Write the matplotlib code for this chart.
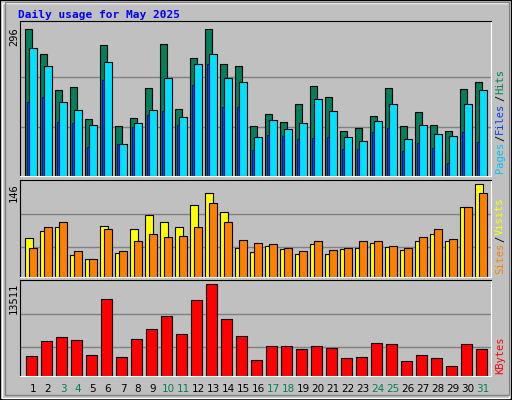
import matplotlib
matplotlib.use("Agg")
import matplotlib.pyplot as plt
from matplotlib.patches import Rectangle
import numpy as np

days = list(range(1, 32))
weekend = [3, 4, 10, 11, 17, 18, 24, 25, 31]
hits = [296,247,173,179,116,264,100,118,177,266,136,239,296,225,221,100,126,108,145,181,159,90,96,122,177,100,130,102,90,175,189]
files = [258,221,150,134,102,231,64,106,134,197,120,225,247,197,189,78,112,94,106,155,132,78,70,110,146,74,102,84,80,145,173]
pages = [150,159,108,106,58,193,64,98,124,132,102,183,225,140,140,52,82,80,74,76,78,54,54,88,96,50,66,56,26,88,68]
visits = [62,73,79,35,29,81,38,76,98,87,79,114,133,103,46,40,49,44,37,52,37,44,46,54,48,43,56,68,57,110,146]
sites = [46,79,86,41,29,76,41,57,68,63,65,78,117,87,59,54,52,46,41,56,43,46,57,56,49,46,63,76,60,111,133]
kbytes = [2970,5198,5792,5346,3119,11286,2822,5495,6980,8910,6237,11138,13511,8465,5940,2376,4455,4455,4010,4455,4158,2673,2822,4901,4752,2228,3119,2673,1485,4752,4010]

BG = "#C0C0C0"
W, H = 512, 400
fig = plt.figure(figsize=(W/100, H/100), dpi=100, facecolor=BG)
fig.patches.append(Rectangle((0, 0), 1, 1, transform=fig.transFigure, fill=False, ec="black", lw=1.5))
fig.patches.append(Rectangle((2/W, 2/H), 1-5/W, 1-5/H, transform=fig.transFigure, fill=False, ec="white", lw=1))
fig.patches.append(Rectangle((5/W, 5/H), 1-8/W, 1-7/H, transform=fig.transFigure, fill=False, ec="#808080", lw=1))

mono = "DejaVu Sans Mono"
fig.text(18/W, 1-15/H, "Daily usage for May 2025", color="#0000FF", fontsize=8,
         fontweight="bold", family=mono, va="center")

def mkax(top, bot):
    ax = fig.add_axes([20/W, 1-bot/H, 471/W, (bot-top)/H])
    ax.set_facecolor(BG)
    ax.set_xlim(-0.353, 31.05)
    ax.set_xticks([]); ax.set_yticks([])
    for s in ["left", "top"]:
        ax.spines[s].set_color("black")
    for s in ["right", "bottom"]:
        ax.spines[s].set_color("white")
    return ax

x = np.arange(31)
ek = dict(edgecolor="black", linewidth=0.8, align="edge")

ax1 = mkax(21, 176)
top1 = 296*155/146.7
ax1.set_ylim(0, top1)
for f in (0.314, 0.64):
    ax1.axhline(f*top1, color="#808080", lw=1, zorder=0)
ax1.bar(x, hits, width=0.47, color="#00805C", **ek)
ax1.bar(x+0.27, files, width=0.49, color="#00E0FF", **ek)
ax1.bar(x+0.09, pages, width=0.17, color="#0040FF", edgecolor="#000040", linewidth=0.5, align="edge")

ax2 = mkax(180, 277)
top2 = 146*96.3/92
ax2.set_ylim(0, top2)
for f in (0.326, 0.685):
    ax2.axhline(f*146, color="#808080", lw=1, zorder=0)
ax2.bar(x, visits, width=0.53, color="#FFFF00", **ek)
ax2.bar(x+0.27, sites, width=0.49, color="#FF8000", **ek)

ax3 = mkax(280, 376)
top3 = 13511*95.3/91
ax3.set_ylim(0, top3)
for f in (0.32, 0.68):
    ax3.axhline(f*13511, color="#808080", lw=1, zorder=0)
ax3.bar(x+0.07, kbytes, width=0.69, color="#FF0000", **ek)

fig.text(14/W, 1-37/H, "296", rotation=90, ha="center", va="center", fontsize=7.5, family=mono)
fig.text(14/W, 1-193/H, "146", rotation=90, ha="center", va="center", fontsize=7.5, family=mono)
fig.text(14/W, 1-298/H, "13511", rotation=90, ha="center", va="center", fontsize=7.5, family=mono)

fig.canvas.draw()
r = fig.canvas.get_renderer()

def rlabel(y0, parts):
    # parts from bottom to top; y0 in pixels from top
    yy = y0
    for txt, col in parts:
        t = fig.text(500/W, 1-yy/H, txt, rotation=90, ha="center", va="bottom", color=col,
                     fontsize=7.5, family=mono)
        ext = t.get_window_extent(r)
        yy -= ext.height + 1

rlabel(176-3, [("Pages", "#00C0FF"), ("/", "black"), ("Files", "#0040FF"), ("/", "black"), ("Hits", "#00805C")])
rlabel(277-3, [("Sites", "#FF8000"), ("/", "black"), ("Visits", "#FFFF00")])
rlabel(376-2, [("KBytes", "#FF0000")])

for i, d in enumerate(days):
    px = 25.3 + 15*i + 7.7
    fig.text(px/W, 1-389/H, str(d), ha="center", va="center", fontsize=7.5,
             color="#00805C" if d in weekend else "black")

fig.savefig("out.png", dpi=100, facecolor=BG)
